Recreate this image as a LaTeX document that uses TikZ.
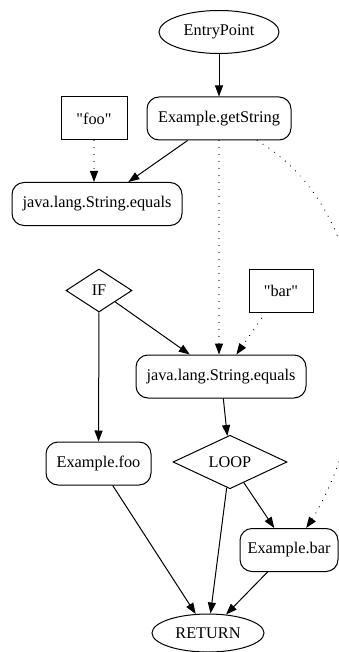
\documentclass[tikz,border=0pt]{standalone}
\usepackage{fontspec}
\setmainfont{Liberation Serif}
\usetikzlibrary{arrows.meta,shapes.geometric,calc,decorations.markings}
\begin{document}
\begin{tikzpicture}[x=1pt,y=-1pt,
  base/.style={draw,line width=1pt,font=\fontsize{16.3}{19}\selectfont,inner sep=0pt,text=black},
  rbox/.style={base,rectangle,rounded corners=12pt},
  sbox/.style={base,rectangle},
  oval/.style={base,ellipse},
  dmd/.style={base,diamond},
  flow/.style={-{Triangle[length=11pt,width=8pt]},line width=1pt},
  dotline/.style={postaction={decorate},
    decoration={markings,mark=between positions 0 and 1 step 7pt with {\fill (0pt,0pt) circle (0.65pt);}}}]
\useasboundingbox (0,0) rectangle (339,652);
\node[oval,minimum width=120pt,minimum height=43pt] (entry) at (219,32) {EntryPoint};
\node[rbox,minimum width=144pt,minimum height=43pt] (gets) at (219,118.5) {Example.getString};
\node[sbox,minimum width=66pt,minimum height=43pt] (foo) at (94,118.5) {\textquotedbl foo\textquotedbl};
\node[rbox,minimum width=170pt,minimum height=43pt] (eq1) at (97,204) {java.lang.String.equals};
\node[dmd,minimum width=66pt,minimum height=43pt] (if) at (99,290.5) {IF};
\node[sbox,minimum width=64pt,minimum height=43pt] (bar) at (281,290.5) {\textquotedbl bar\textquotedbl};
\node[rbox,minimum width=170pt,minimum height=43pt] (eq2) at (221,376.5) {java.lang.String.equals};
\node[dmd,minimum width=114pt,minimum height=44pt] (loop) at (230,462) {LOOP};
\node[rbox,minimum width=105pt,minimum height=43pt] (exfoo) at (98.5,463.5) {Example.foo};
\node[rbox,minimum width=98pt,minimum height=43pt] (exbar) at (289,550) {Example.bar};
\node[oval,minimum width=112pt,minimum height=38pt] (ret) at (208,633) {RETURN};
% solid connectors
\draw[flow] (entry) -- (gets);
\draw[flow] (gets) -- (eq1);
\draw[flow] (if) -- (eq2);
\draw[flow] (if) -- (exfoo);
\draw[flow] (eq2) -- (loop);
\draw[flow] (loop) -- (exbar);
\draw[flow] (exfoo) -- (ret);
\draw[flow] (loop) -- (ret);
\draw[flow] (exbar) -- (ret);
% dotted connectors
\coordinate (e1) at (eq1.north -| foo.south);
\coordinate (f1) at ($(e1)!11pt!(foo.south)$);
\path[dotline] (foo.south) -- (e1);
\draw[flow] (f1) -- (e1);
\coordinate (e2) at (eq2.north -| gets.south);
\coordinate (f2) at ($(e2)!11pt!(gets.south)$);
\path[dotline] (gets.south) -- (e2);
\draw[flow] (f2) -- (e2);
\coordinate (e3) at (exbar.52);
\coordinate (c3) at (375,430);
\coordinate (f3) at ($(e3)!11pt!(c3)$);
\path[dotline] (gets.-30) .. controls (390,220) and (c3) .. (e3);
\draw[flow] (f3) -- (e3);
\coordinate (e4) at (eq2.55);
\coordinate (f4) at ($(e4)!11pt!(bar.235)$);
\path[dotline] (bar.235) -- (e4);
\draw[flow] (f4) -- (e4);
\end{tikzpicture}
\end{document}
